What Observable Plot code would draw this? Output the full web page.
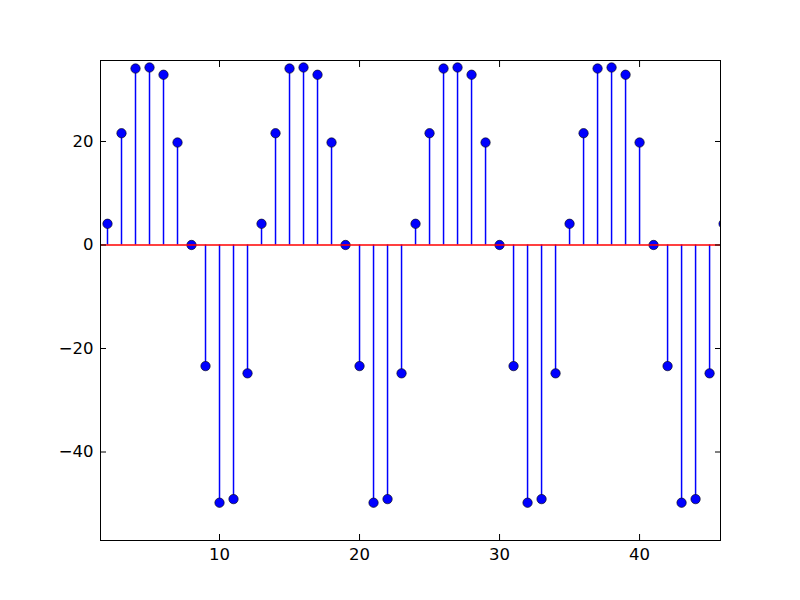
<!DOCTYPE html>
<html>
<head>
<meta charset="utf-8">
<script src="https://cdn.jsdelivr.net/npm/d3@7"></script>
<script src="https://cdn.jsdelivr.net/npm/@observablehq/plot@0.6"></script>
<style>
  html, body { margin: 0; padding: 0; background: #fff; }
  #chart { width: 800px; height: 600px; }
</style>
</head>
<body>
<div id="chart"></div>
<script>
// x positions of the stems
const xs = [2,3,4,5,6,7,8,9,10,11,12,
            13,14,15,16,17,18,19,20,21,22,23,
            24,25,26,27,28,29,30,31,32,33,34,
            35,36,37,38,39,40,41,42,43,44,45,
            46];
// stem values
const values = [4.1,21.6,34.1,34.3,32.9,19.8,0,-23.4,-49.8,-49.1,-24.8,
                4.1,21.6,34.1,34.3,32.9,19.8,0,-23.4,-49.8,-49.1,-24.8,
                4.1,21.6,34.1,34.3,32.9,19.8,0,-23.4,-49.8,-49.1,-24.8,
                4.1,21.6,34.1,34.3,32.9,19.8,0,-23.4,-49.8,-49.1,-24.8,
                4.1];
const xTicks = [10, 20, 30, 40];
const yTicks = [-40, -20, 0, 20];
const xDomain = [1.5, 45.78];
const yDomain = [-57.1, 35.65];

const data = xs.map((x, i) => ({x, y: values[i]}));
const fmt = d => (d < 0 ? "\u2212" + Math.abs(d) : String(d));

const chart = Plot.plot({
  width: 800,
  height: 600,
  marginLeft: 100,
  marginRight: 80,
  marginTop: 60,
  marginBottom: 60,
  style: {fontFamily: "DejaVu Sans", fontSize: "16.5px", color: "black", background: "white"},
  x: {domain: xDomain},
  y: {domain: yDomain},
  marks: [
    Plot.ruleX(data, {x: "x", y1: 0, y2: "y", stroke: "#0000ff", strokeWidth: 1.5, clip: true}),
    Plot.dot(data, {x: "x", y: "y", r: 4.7, fill: "#0000ff", stroke: "black", strokeWidth: 0.6, clip: true}),
    Plot.ruleY([0], {stroke: "#ff0000", strokeWidth: 1.5, clip: true}),
    Plot.axisX({ticks: xTicks, anchor: "bottom", tickSize: 0, tickPadding: 8, tickFormat: fmt, label: null}),
    Plot.axisX({ticks: xTicks, anchor: "bottom", tickSize: -6, tickFormat: () => "", label: null}),
    Plot.axisX({ticks: xTicks, anchor: "top", tickSize: -6, tickFormat: () => "", label: null}),
    Plot.axisY({ticks: yTicks, anchor: "left", tickSize: 0, tickPadding: 7, tickFormat: fmt, label: null}),
    Plot.axisY({ticks: yTicks, anchor: "left", tickSize: -6, tickFormat: () => "", label: null}),
    Plot.axisY({ticks: yTicks, anchor: "right", tickSize: -6, tickFormat: () => "", label: null}),
    Plot.frame({stroke: "black", strokeWidth: 1})
  ]
});
document.getElementById("chart").appendChild(chart);
</script>
</body>
</html>
